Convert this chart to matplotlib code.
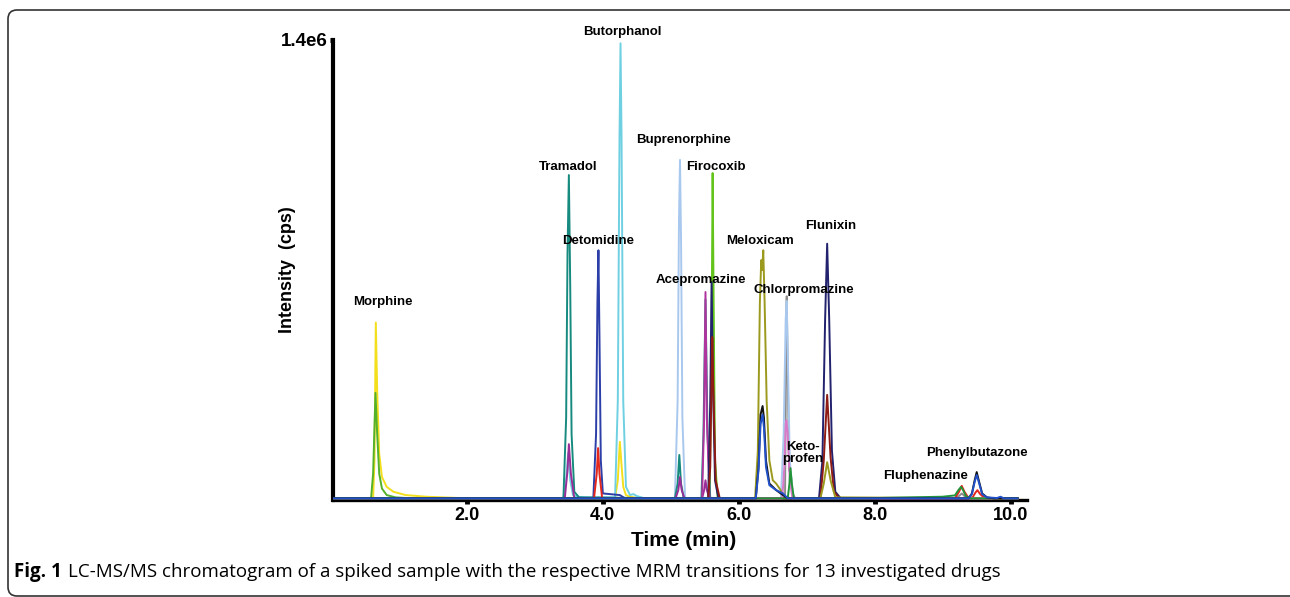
import matplotlib
matplotlib.use("Agg")
import matplotlib.pyplot as plt
from matplotlib.patches import FancyBboxPatch
from matplotlib.transforms import IdentityTransform

# MRM traces: time (min) and intensity (kcps)
yellow_t = [0.0, 0.62, 0.64, 0.66, 0.68, 0.71, 0.75, 0.82, 0.92, 1.1, 1.4, 1.9, 4.18, 4.22, 4.25, 4.27, 4.30, 4.34, 4.40, 4.55, 10.1]
yellow_i = [5, 5, 120, 540, 330, 140, 70, 40, 25, 15, 10, 6, 6, 60, 177, 120, 40, 15, 10, 5, 5]

mgreen_t = [0.0, 0.59, 0.62, 0.655, 0.68, 0.71, 0.75, 0.82, 0.95, 1.2, 10.1]
mgreen_i = [5, 5, 80, 326, 200, 80, 35, 15, 8, 5, 5]

teal_t = [0.0, 3.42, 3.46, 3.48, 3.50, 3.52, 3.54, 3.58, 3.65, 5.06, 5.10, 5.125, 5.15, 5.19, 5.45, 5.48, 5.51, 5.54, 5.58, 10.1]
teal_i = [5, 5, 250, 750, 989, 650, 200, 25, 8, 5, 50, 137, 50, 5, 5, 200, 610, 200, 5, 5]

purple_t = [0.0, 3.44, 3.48, 3.50, 3.53, 3.58, 5.07, 5.11, 5.135, 5.16, 5.20, 5.46, 5.49, 5.51, 5.53, 5.57, 10.1]
purple_i = [5, 5, 90, 170, 80, 5, 5, 30, 70, 30, 5, 5, 30, 60, 30, 5, 5]

magenta_t = [5.0, 5.46, 5.49, 5.51, 5.53, 5.57, 6.0]
magenta_i = [5, 5, 250, 633, 250, 5, 5]

cyan_t = [0.0, 3.42, 3.46, 3.49, 3.52, 3.56, 3.62, 3.75, 4.18, 4.22, 4.245, 4.26, 4.275, 4.30, 4.34, 4.40, 4.45, 4.50, 4.6, 10.1]
cyan_i = [5, 5, 60, 143, 60, 15, 10, 8, 8, 300, 1100, 1390, 1100, 300, 40, 15, 18, 12, 6, 5]

dblue_t = [0.0, 3.86, 3.90, 3.92, 3.935, 3.95, 3.97, 4.00, 4.1, 4.25, 4.32, 4.4, 10.1]
dblue_i = [5, 5, 200, 600, 760, 500, 120, 20, 18, 15, 6, 5, 5]

red_t = [0.0, 3.87, 3.91, 3.93, 3.95, 3.99, 9.18, 9.24, 9.28, 9.32, 9.38, 9.44, 9.48, 9.51, 9.55, 9.62, 10.1]
red_i = [5, 5, 80, 158, 80, 5, 5, 25, 43, 25, 6, 8, 22, 30, 18, 5, 5]

lblue_t = [0.0, 5.06, 5.10, 5.12, 5.135, 5.15, 5.17, 5.21, 6.62, 6.66, 6.69, 6.705, 6.72, 6.75, 6.80, 10.1]
lblue_i = [5, 5, 300, 850, 1035, 800, 250, 5, 5, 200, 550, 606, 450, 120, 5, 5]

lime_t = [0.0, 5.57, 5.60, 5.615, 5.63, 5.65, 5.69, 10.1]
lime_i = [5, 5, 500, 995, 600, 120, 5, 5]

navy_t = [0.0, 5.55, 5.58, 5.60, 5.62, 5.65, 5.70, 7.18, 7.23, 7.27, 7.30, 7.33, 7.37, 7.42, 7.50, 10.1]
navy_i = [5, 5, 300, 663, 350, 60, 5, 5, 120, 550, 780, 550, 150, 25, 5, 5]

dred_t = [0.0, 5.55, 5.58, 5.60, 5.61, 5.63, 5.66, 5.72, 7.20, 7.25, 7.30, 7.35, 7.40, 7.48, 10.1]
dred_i = [5, 5, 100, 380, 496, 300, 60, 5, 5, 120, 320, 130, 25, 5, 5]

olive_t = [0.0, 6.24, 6.28, 6.31, 6.33, 6.345, 6.36, 6.38, 6.41, 6.45, 6.50, 6.55, 6.60, 6.66, 6.72, 7.20, 7.25, 7.30, 7.35, 7.42, 10.1]
olive_i = [5, 5, 150, 600, 730, 700, 760, 600, 300, 120, 60, 50, 35, 15, 5, 5, 50, 115, 60, 8, 5]

black_t = [0.0, 6.25, 6.29, 6.32, 6.35, 6.37, 6.40, 6.45, 6.55, 6.65, 6.72, 9.38, 9.43, 9.47, 9.50, 9.53, 9.58, 9.65, 9.75, 10.1]
black_i = [5, 5, 100, 260, 286, 250, 120, 50, 30, 15, 5, 5, 20, 60, 85, 60, 20, 8, 5, 5]

blue_t = [0.0, 6.25, 6.29, 6.32, 6.35, 6.37, 6.40, 6.45, 6.55, 6.65, 6.72, 9.38, 9.43, 9.47, 9.50, 9.53, 9.58, 9.65, 9.8, 9.85, 9.9, 10.1]
blue_i = [5, 5, 90, 230, 260, 220, 100, 45, 30, 20, 5, 5, 18, 55, 76, 55, 18, 8, 6, 10, 5, 5]

pink_t = [0.0, 6.64, 6.67, 6.69, 6.70, 6.72, 6.75, 6.79, 10.1]
pink_i = [5, 5, 100, 230, 243, 200, 60, 5, 5]

gray_t = [6.0, 6.68, 6.70, 6.705, 6.71, 6.74, 6.765, 6.79, 6.83, 9.2, 9.25, 9.28, 9.31, 9.36, 9.6]
gray_i = [5, 5, 560, 620, 540, 90, 80, 20, 5, 5, 14, 20, 14, 5, 5]

green_t = [0.0, 6.72, 6.745, 6.76, 6.78, 6.81, 7.8, 8.5, 9.0, 9.18, 9.23, 9.27, 9.30, 9.34, 9.40, 10.1]
green_i = [5, 5, 50, 97, 50, 5, 5, 8, 10, 14, 30, 40, 30, 12, 5, 5]

traces = [
    (gray_t, gray_i, '#8c8c8c'),
    (yellow_t, yellow_i, '#f3df1c'),
    (mgreen_t, mgreen_i, '#55b02a'),
    (cyan_t, cyan_i, '#6fd0e2'),
    (lblue_t, lblue_i, '#a9c8ee'),
    (lime_t, lime_i, '#62c41a'),
    (teal_t, teal_i, '#168a7f'),
    (purple_t, purple_i, '#9a2e98'),
    (magenta_t, magenta_i, '#b0349e'),
    (dblue_t, dblue_i, '#2c3ea8'),
    (red_t, red_i, '#e4281e'),
    (navy_t, navy_i, '#22226e'),
    (dred_t, dred_i, '#8e1b14'),
    (olive_t, olive_i, '#9c9a1e'),
    (pink_t, pink_i, '#d87ac9'),
    (green_t, green_i, '#23933a'),
    (black_t, black_i, '#111111'),
    (blue_t, blue_i, '#2150c8'),
]

# compound labels and where they sit (time, kcps)
labels = ['Morphine', 'Tramadol', 'Detomidine', 'Butorphanol', 'Buprenorphine', 'Firocoxib',
          'Acepromazine', 'Meloxicam', 'Chlorpromazine', 'Keto-\nprofen', 'Flunixin',
          'Fluphenazine', 'Phenylbutazone']
label_pos = [(0.76, 603), (3.485, 1013), (3.93, 788), (4.29, 1424), (5.18, 1096), (5.66, 1013),
             (5.45, 670), (6.31, 788), (6.96, 639), (6.94, 143), (7.35, 834),
             (8.75, 73), (9.50, 143)]

xticks = [2, 4, 6, 8, 10]
xticklabels = ['2.0', '4.0', '6.0', '8.0', '10.0']

plt.rcParams['font.family'] = ['Liberation Sans', 'DejaVu Sans']

fig = plt.figure(figsize=(12.9, 5.97), dpi=100)
ax = fig.add_axes([333 / 1290, 97 / 597, 694 / 1290, 460 / 597])

for t, i, c in traces:
    ax.plot(t, [v * 1000 for v in i], color=c, lw=1.4, solid_joinstyle='round')

for name, (tx, ty) in zip(labels, label_pos):
    ax.text(tx, ty * 1000, name, ha='center', va='center', fontsize=9.5,
            fontweight='bold', clip_on=False, linespacing=1.0)

ax.set_xlim(0.03, 10.24)
ax.set_ylim(0, 1.4e6)
ax.spines['top'].set_visible(False)
ax.spines['right'].set_visible(False)
ax.spines['left'].set_linewidth(3.0)
ax.spines['bottom'].set_linewidth(2.4)
ax.spines['left'].set_zorder(1)
ax.spines['bottom'].set_zorder(1)

ax.set_xticks(xticks)
ax.set_xticklabels(xticklabels, fontsize=13, fontweight='bold')
ax.set_yticks([1.4e6])
ax.set_yticklabels(['1.4e6'], fontsize=13.5, fontweight='bold')
ax.tick_params(axis='x', direction='out', length=3, width=3.5, pad=2)
ax.tick_params(axis='y', direction='out', length=2, width=3.5, pad=2)

fig.text(287 / 1290, 1 - 270 / 597, 'Intensity  (cps)', rotation=90, ha='center', va='center',
         fontsize=13, fontweight='bold')
fig.text(684 / 1290, 1 - 541 / 597, 'Time (min)', ha='center', va='center',
         fontsize=15, fontweight='bold')

# caption
fig.text(14 / 1290, 1 - 572 / 597, 'Fig. 1', ha='left', va='center', fontsize=13.5,
         fontweight='bold', family='Open Sans')
fig.text(68 / 1290, 1 - 572 / 597,
         'LC-MS/MS chromatogram of a spiked sample with the respective MRM transitions for 13 investigated drugs',
         ha='left', va='center', fontsize=13.5, family='Open Sans')

# rounded frame around the figure
frame = FancyBboxPatch((8, 1), 1400, 586, boxstyle='round,pad=0,rounding_size=9',
                       transform=IdentityTransform(), fill=False, ec='#333333', lw=1.2)
fig.add_artist(frame)

fig.savefig('out.png', dpi=100)
